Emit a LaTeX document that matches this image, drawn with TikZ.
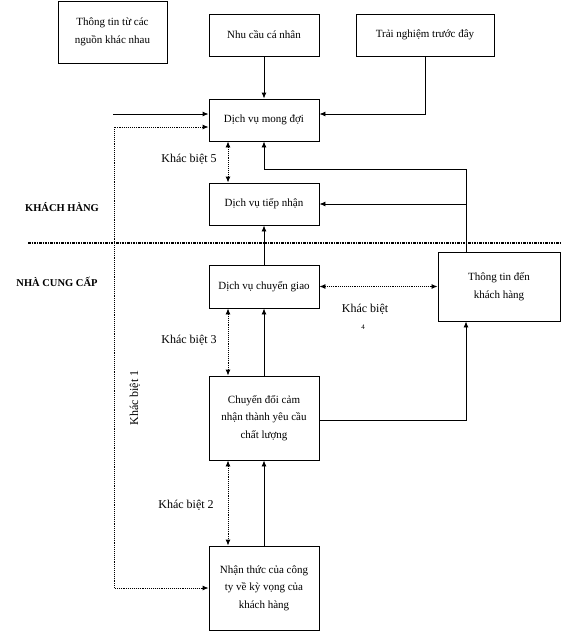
\documentclass[tikz,border=0pt]{standalone}
\usepackage{fontspec}
\setmainfont{Liberation Serif}
\usepackage{tikz}
\usetikzlibrary{arrows.meta}
\tikzstyle{stagebox} = [draw=black, line width=0.9pt, rectangle, minimum width=110pt, minimum height=42pt, align=center, inner sep=2pt, font=\fontsize{11}{17.5}\selectfont]
\tikzstyle{gaplabel} = [font=\fontsize{12}{14}\selectfont]
\tikzstyle{sidelabel} = [font=\bfseries\fontsize{10.5}{12}\selectfont]
\tikzstyle{flow} = [-{Latex[length=6pt,width=5pt]}, line width=0.9pt]
\tikzstyle{gaparrow} = [{Latex[length=6pt,width=5pt]}-{Latex[length=6pt,width=5pt]}, densely dotted, line width=0.9pt]
\tikzstyle{divider} = [line width=1.3pt, dash pattern=on 2.5pt off 1pt on 1pt off 1pt]

\begin{document}
\begin{tikzpicture}[x=1pt, y=-1pt]
\useasboundingbox (0,0) rectangle (560,632);
% customer side
\node [stagebox, minimum width=109pt, minimum height=62pt] (sources) at (112.5,32) {Thông tin từ các\\nguồn khác nhau};
\node [stagebox] (need) at (264,35) {Nhu cầu cá nhân};
\node [stagebox, minimum width=138pt] (past) at (425,35) {Trải nghiệm trước đây};
\node [stagebox] (expect) at (264,120) {Dịch vụ mong đợi};
\node [stagebox] (recv) at (264,204) {Dịch vụ tiếp nhận};
% provider side
\node [stagebox, minimum height=43pt] (deliver) at (264,286.5) {Dịch vụ chuyển giao};
\node [stagebox, minimum width=122pt, minimum height=69pt] (info) at (499,286.5) {Thông tin đến\\khách hàng};
\node [stagebox, minimum height=84pt] (convert) at (264,418) {Chuyển đổi cảm\\nhận thành yêu cầu\\chất lượng};
\node [stagebox, minimum height=84pt] (aware) at (264,588) {Nhận thức của công\\ty về kỳ vọng của\\khách hàng};

\node [sidelabel] (custlbl) at (62,207) {KHÁCH HÀNG};
\node [sidelabel] (provlbl) at (57,282) {NHÀ CUNG CẤP};
\draw [divider] (28,243) -- (560,243);

\coordinate (freeL) at (113,114);
\coordinate (gapL) at (114,0);
\coordinate (bendA) at (264,169);

% solid flows
\draw [flow] (need) -- (expect);
\draw [flow] (past.south) |- ([yshift=6pt]expect.east);
\draw [flow] (freeL) -- (freeL -| expect.west);
\draw [flow] ([xshift=-33pt]info.north) |- (bendA) -- (expect);
\draw [flow] ([xshift=-33pt]info.north |- recv.east) -- (recv.east);
\draw [flow] (deliver) -- (recv);
\draw [flow] (convert) -- (deliver);
\draw [flow] ([yshift=-2pt]convert.east) -| ([xshift=-33pt]info.south);
\draw [flow] (aware) -- (convert);

% gaps
\draw [gaparrow] ([yshift=-7pt]expect.west) -- ([yshift=-7pt]expect.west -| gapL) |- (aware.west);
\draw [gaparrow] ([xshift=-36pt]expect.south) -- ([xshift=-36pt]recv.north);
\draw [gaparrow] (deliver.east) -- (info.west |- deliver.east);
\draw [gaparrow] ([xshift=-36pt]deliver.south) -- ([xshift=-36pt]convert.north);
\draw [gaparrow] ([xshift=-36pt]convert.south) -- ([xshift=-36pt]aware.north);

\node [gaplabel] (gap5) at (189,159) {Khác biệt 5};
\node [gaplabel] (gap4) at (365,309) {Khác biệt};
\node [font=\fontsize{7}{8}\selectfont] (gap4n) at (363,327) {4};
\node [gaplabel] (gap3) at (189,340) {Khác biệt 3};
\node [gaplabel] (gap2) at (186,505) {Khác biệt 2};
\node [gaplabel, rotate=90] (gap1) at (135,398) {Khác biệt 1};
\end{tikzpicture}
\end{document}
